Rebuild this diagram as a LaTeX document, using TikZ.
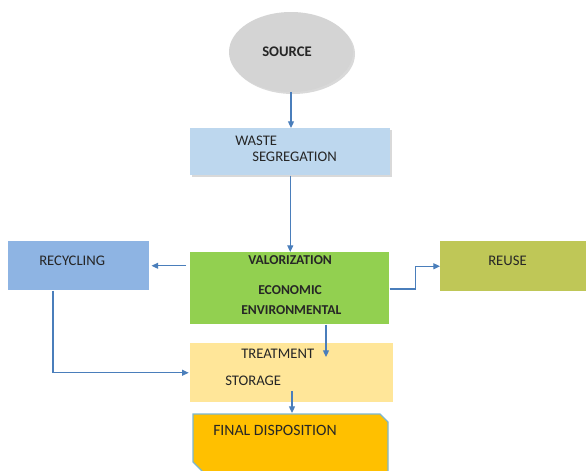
\documentclass[tikz,border=0pt]{standalone}
\usepackage{fontspec}
\setmainfont{Carlito}
\usetikzlibrary{arrows.meta,shadows,shapes.geometric}
\definecolor{srcgray}{HTML}{D4D4D4}
\definecolor{wasteblue}{HTML}{BDD7EE}
\definecolor{valgreen}{HTML}{92D050}
\definecolor{recblue}{HTML}{8EB4E3}
\definecolor{reuseolive}{HTML}{BFC757}
\definecolor{treatyellow}{HTML}{FFE699}
\definecolor{finalorange}{HTML}{FFC000}
\definecolor{finalborder}{HTML}{7CB7D0}
\definecolor{arrowblue}{HTML}{4A7EBB}
\tikzset{
  box/.style={draw=none, inner sep=0pt, anchor=north west},
  lbl/.style={anchor=west, inner sep=0pt, text=black!85, font=\fontsize{11}{13}\selectfont},
  blbl/.style={lbl, font=\fontsize{10.2}{12}\selectfont\bfseries},
  arr/.style={draw=arrowblue, line width=0.9pt, -{Triangle[length=5pt,width=4.5pt]}},
  softshadow/.style={drop shadow={shadow xshift=1.5pt, shadow yshift=-1.5pt, opacity=0.3, fill=black!50}}
}
\begin{document}
\begin{tikzpicture}[x=0.75pt,y=0.75pt,yscale=-1,xscale=1]
    \path[use as bounding box] (0,0) rectangle (586,471);
    %Shapes
    \node (source) [ellipse, fill=srcgray, inner sep=0pt, minimum width=93pt, minimum height=60pt, softshadow] at (291,52) {};
    \node (waste) [box, fill=wasteblue, minimum width=150pt, minimum height=35.25pt, softshadow] at (190,128) {};
    \node (valor) [box, fill=valgreen, minimum width=149.25pt, minimum height=54pt] at (190,252) {};
    \node (recyc) [box, fill=recblue, minimum width=105.75pt, minimum height=36.75pt] at (8,241) {};
    \node (reuse) [box, fill=reuseolive, minimum width=111pt, minimum height=37.5pt] at (440,241) {};
    \node (treat) [box, fill=treatyellow, minimum width=152.25pt, minimum height=44.25pt] at (190,343) {};
    \draw [fill=finalorange, draw=finalborder, line width=0.8pt] (193,414) -- (380,414) -- (388,422) -- (388,476) -- (207,476) -- (193,462) -- cycle ;
    \coordinate (fintop) at (292,413);
    \coordinate (treatin) at (326,357);
    \coordinate (treatout) at (292,391);
    % Text Node
    \node (tsource) [blbl, anchor=center, font=\fontsize{11}{13}\selectfont\bfseries] at (287,52) {SOURCE};
    \node (twaste) [lbl] at (235,141) {WASTE};
    \node (tseg) [lbl] at (252,157) {SEGREGATION};
    \node (trecyc) [lbl] at (39,261) {RECYCLING};
    \node (tvalor) [blbl] at (248,260) {VALORIZATION};
    \node (tecon) [blbl] at (258,290) {ECONOMIC};
    \node (tenv) [blbl] at (241,310) {ENVIRONMENTAL};
    \node (treuse) [lbl] at (488,261) {REUSE};
    \node (ttreat) [lbl] at (241,354) {TREATMENT};
    \node (tstore) [lbl] at (225,381) {STORAGE};
    \node (tfinal) [lbl, font=\fontsize{11.8}{14}\selectfont] at (213,430) {FINAL DISPOSITION};
    % Connectors
    \draw [arr] (source.south) -- (source.south |- waste.north) ;
    \draw [arr] (waste.south) -- (waste.south |- valor.north) ;
    \draw [arr] ([xshift=-3pt]valor.west |- recyc.east) -- ([xshift=1.5pt]recyc.east) ;
    \draw [arr] (valor.east |- 0,289) -- ++(26,0) |- (reuse.west) ;
    \draw [arr] (recyc.south -| 53,0) |- ([xshift=-1pt]treat.west) ;
    \draw [arr] (valor.south -| treatin) -- (treatin) ;
    \draw [arr] (treatout) -- (fintop) ;
\end{tikzpicture}
\end{document}
